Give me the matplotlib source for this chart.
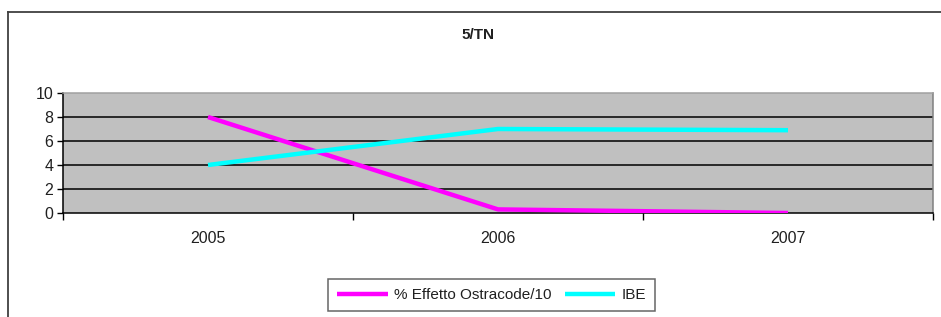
import numpy as np
import matplotlib.pyplot as plt
from matplotlib.lines import Line2D

plt.rcParams['font.family'] = ['Liberation Sans', 'DejaVu Sans']

# data
years = ['2005', '2006', '2007']
ostracode = [8.0, 0.3, 0.0]   # % Effetto Ostracode/10
ibe = [4.0, 7.0, 6.9]         # IBE

W, H = 941, 317
fig = plt.figure(figsize=(W / 100, H / 100), dpi=100)
fig.patch.set_facecolor('white')

# outer chart frame (left + top visible, rest cut off)
fig.add_artist(Line2D([8 / W, 8 / W], [0, 1 - 12 / H], color='#404040', lw=1.3))
fig.add_artist(Line2D([8 / W, 1], [1 - 12 / H, 1 - 12 / H], color='#404040', lw=1.3))

left, right, top, bottom = 63, 933, 93, 213
ax = fig.add_axes([left / W, 1 - bottom / H, (right - left) / W, (bottom - top) / H])
ax.set_facecolor('#c0c0c0')

x = np.arange(len(years))
ax.plot(x, ostracode, color='#ff00ff', lw=3.2, solid_capstyle='butt',
        label='% Effetto Ostracode/10', zorder=3)
ax.plot(x, ibe, color='#00ffff', lw=3.2, solid_capstyle='butt', label='IBE', zorder=3)

ax.set_xlim(-0.5, 2.5)
ax.set_ylim(0, 10)
ax.set_yticks([0, 2, 4, 6, 8, 10])
ax.set_yticklabels(['0', '2', '4', '6', '8', '10'], fontsize=11.5, color='#202020')
for v in [2, 4, 6, 8]:
    ax.axhline(v, color='black', lw=1.1, zorder=1)

ax.set_xticks([-0.5, 0.5, 1.5, 2.5])
ax.set_xticklabels([])
ax.set_xticks(x, minor=True)
ax.set_xticklabels(years, minor=True, fontsize=11.5, color='#202020')
ax.tick_params(axis='x', which='minor', length=0, pad=13)
ax.tick_params(axis='x', which='major', direction='out', length=5, width=1)
ax.tick_params(axis='y', direction='out', length=4, width=1, pad=3)

ax.spines['top'].set_color('#a0a0a0')
ax.spines['right'].set_color('#808080')
ax.spines['left'].set_color('black')
ax.spines['bottom'].set_color('black')
for s in ax.spines.values():
    s.set_linewidth(1.1)

fig.text(478 / W, 1 - 35 / H, '5/TN', ha='center', va='center', fontsize=11,
         fontweight='bold', color='#202020')

leg = fig.legend(loc='upper left', bbox_to_anchor=(328 / W, 1 - 279 / H), ncol=2,
                 fontsize=11, frameon=True, fancybox=False, edgecolor='#404040',
                 handlelength=3.3, handletextpad=0.4, columnspacing=0.9,
                 borderpad=0.6, borderaxespad=0)
leg.get_frame().set_linewidth(1.1)
for t in leg.get_texts():
    t.set_color('#202020')

fig.savefig('out.png', dpi=100)
